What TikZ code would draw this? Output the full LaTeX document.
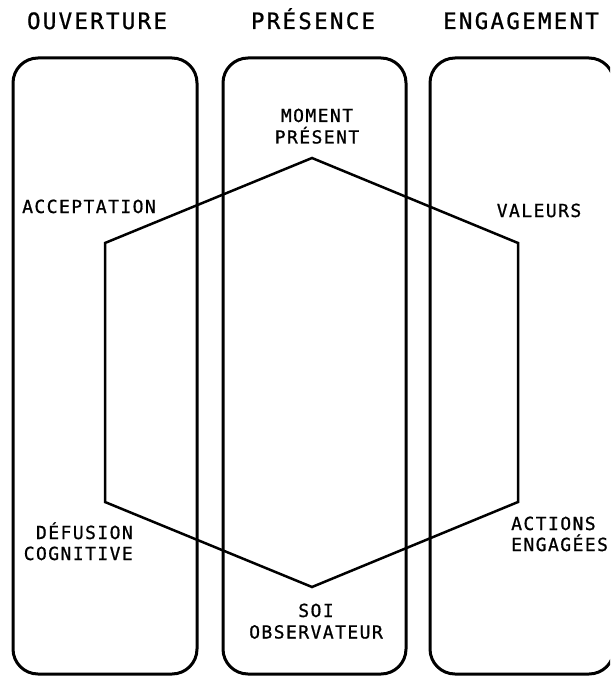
\documentclass[tikz,border=0pt]{standalone}
\usepackage{fontspec}
\newfontfamily\hfont[LetterSpace=10,FakeBold=0.9]{DejaVu Sans Mono}
\newfontfamily\lfont[LetterSpace=8,FakeBold=0.9]{DejaVu Sans Mono}
\begin{document}
\begin{tikzpicture}[x=1pt,y=-1pt,
  colbox/.style={line width=3pt, rounded corners=25pt},
  hexa/.style={line width=2.5pt, line join=miter},
  head/.style={font=\hfont\fontsize{22.5}{26}\selectfont, inner sep=0pt, anchor=base},
  lab/.style={font=\lfont\fontsize{18}{21}\selectfont, inner sep=0pt}]
\useasboundingbox (0,0) rectangle (610,676);
\clip (0,0) rectangle (610,676);
\fill[white] (0,0) rectangle (610,676);
% column boxes
\draw[colbox] (13,58) rectangle (197,674);
\draw[colbox] (223,58) rectangle (406,674);
\draw[colbox] (430,58) rectangle (614,674);
% headers
\node[head] (hO) at (97,29) {OUVERTURE};
\node[head] (hP) at (313,29) {PRÉSENCE};
\node[head] (hE) at (521,29) {ENGAGEMENT};
% hexagon
\coordinate (vT) at (312,158);
\coordinate (vUR) at (518,243);
\coordinate (vLR) at (518,502);
\coordinate (vB) at (312,587);
\coordinate (vLL) at (105,502);
\coordinate (vUL) at (105,243);
\draw[hexa] (vT) -- (vUR) -- (vLR) -- (vB) -- (vLL) -- (vUL) -- cycle;
% labels
\node[lab, anchor=base] (mom1) at (317,122) {MOMENT};
\node[lab, anchor=base] (mom2) at (317,143.5) {PRÉSENT};
\node[lab, anchor=base west] (acc) at (22,213) {ACCEPTATION};
\node[lab, anchor=base] (val) at (539,217) {VALEURS};
\node[lab, anchor=base east] (def1) at (133,539) {DÉFUSION};
\node[lab, anchor=base east] (def2) at (133,560) {COGNITIVE};
\node[lab, anchor=base west] (act1) at (511,530) {ACTIONS};
\node[lab, anchor=base west] (act2) at (511,551) {ENGAGÉES};
\node[lab, anchor=base] (soi1) at (316,617) {SOI};
\node[lab, anchor=base] (soi2) at (316,638.5) {OBSERVATEUR};
\end{tikzpicture}
\end{document}
